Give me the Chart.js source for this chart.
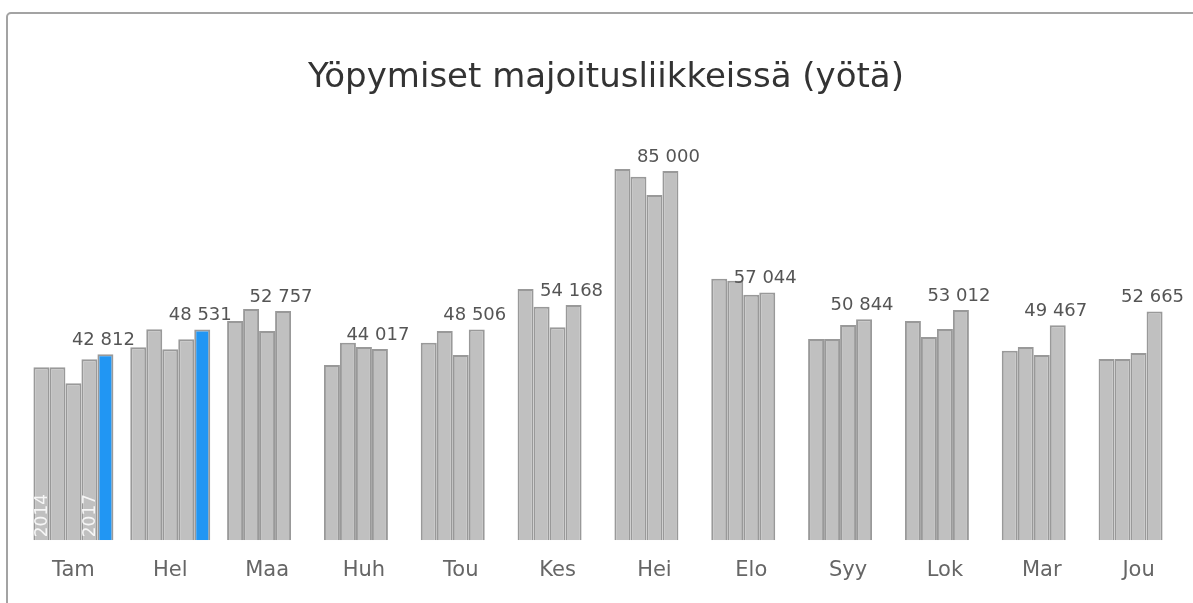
<!DOCTYPE html>
<html lang="fi">
<head>
  <meta charset="UTF-8">
  <title>Yöpymiset majoitusliikkeissä</title>
  <script src="https://cdn.jsdelivr.net/npm/chart.js"></script>
  <style>
    html, body {
      margin: 0;
      padding: 0;
      background: #fff;
      overflow: hidden;
    }

    .card {
      position: absolute;
      left: 6px;
      top: 12px;
      width: 1220px;
      height: 620px;
      border: 2px solid #a3a3a3;
      border-radius: 5px;
      box-sizing: border-box;
    }

    .wrap {
      position: absolute;
      left: 0;
      top: 0;
      width: 1193px;
      height: 603px;
    }
  </style>
</head>
<body>
  <div class="card"></div>
  <div class="wrap">
    <canvas id="nightsChart" width="1193" height="603"></canvas>
  </div>

  <script>
    // Kuukaudet
    const months = ["Tam", "Hel", "Maa", "Huh", "Tou", "Kes", "Hei", "Elo", "Syy", "Lok", "Mar", "Jou"];

    // Yöpymiset vuosittain (luettu kuvasta, viimeisin arvo tarkka)
    const nights2014 = [39800, 44410, 50460, 40330, 45460, 57830, 85450, 60200, 46320, 50460, 43620, 41710];
    const nights2015 = [39800, 48550, 53220, 45460, 48160, 53750, 83680, 59740, 46320, 46780, 44470, 41710];
    const nights2016 = [36120, 43950, 48160, 44470, 42630, 49010, 79460, 56510, 49540, 48620, 42630, 43090];
    const nights2017 = [41640, 46250, 52757, 44017, 48506, 54168, 85000, 57044, 50844, 53012, 49467, 52665];
    const nights2018 = [42812, 48531, null, null, null, null, null, null, null, null, null, null];

    const years = ["2014", "2015", "2016", "2017", "2018"];
    const yearLabelsShown = ["2014", "2017"];

    const grey = "#c0c0c0";
    const greyBorder = "#999999";
    const blue = "#2196f3";

    function fmt(v) {
      return String(v).replace(/\B(?=(\d{3})+(?!\d))/g, " ");
    }

    // Arvot viimeisimmän palkin yläpuolelle + vuosiluvut ensimmäiseen ryhmään
    const barLabels = {
      id: "barLabels",
      afterDatasetsDraw(chart) {
        const ctx = chart.ctx;
        ctx.save();
        ctx.font = "18px 'DejaVu Sans'";
        ctx.fillStyle = "#555";
        ctx.textAlign = "center";
        ctx.textBaseline = "bottom";
        months.forEach((m, i) => {
          for (let d = chart.data.datasets.length - 1; d >= 0; d--) {
            const v = chart.data.datasets[d].data[i];
            if (v != null) {
              const bar = chart.getDatasetMeta(d).data[i];
              ctx.fillText(fmt(v), bar.x - 2, bar.y - 5);
              break;
            }
          }
        });

        ctx.font = "17px 'DejaVu Sans'";
        ctx.fillStyle = "rgba(255, 255, 255, 0.85)";
        ctx.textAlign = "left";
        ctx.textBaseline = "middle";
        chart.data.datasets.forEach((ds, d) => {
          if (!yearLabelsShown.includes(ds.label)) return;
          const bar = chart.getDatasetMeta(d).data[0];
          ctx.save();
          ctx.translate(bar.x, bar.base - 3);
          ctx.rotate(-Math.PI / 2);
          ctx.fillText(ds.label, 0, 1);
          ctx.restore();
        });
        ctx.restore();
      }
    };

    const seriesValues = [nights2014, nights2015, nights2016, nights2017, nights2018];

    new Chart(document.getElementById("nightsChart"), {
      type: "bar",
      data: {
        labels: months,
        datasets: seriesValues.map((vals, i) => ({
          label: years[i],
          data: vals,
          backgroundColor: i === 4 ? blue : grey,
          borderColor: greyBorder,
          borderWidth: 2,
          barPercentage: 1,
          categoryPercentage: 0.826
        }))
      },
      options: {
        responsive: false,
        animation: false,
        layout: {
          padding: { left: 25, right: 6, top: 0, bottom: 0 }
        },
        plugins: {
          legend: { display: false },
          tooltip: { enabled: false },
          title: {
            display: true,
            text: "Yöpymiset majoitusliikkeissä (yötä)",
            color: "#333",
            font: { family: "'DejaVu Sans'", size: 34, weight: "normal" },
            padding: { top: 58, bottom: 7 }
          }
        },
        scales: {
          x: {
            grid: { display: false, drawTicks: false },
            border: { display: false },
            ticks: {
              color: "#666",
              padding: 18,
              font: { family: "'DejaVu Sans'", size: 21 }
            },
            afterFit(scale) {
              scale.height = 62.8;
            }
          },
          y: {
            display: false,
            min: 0,
            max: 100000
          }
        }
      },
      plugins: [barLabels]
    });
  </script>
</body>
</html>
